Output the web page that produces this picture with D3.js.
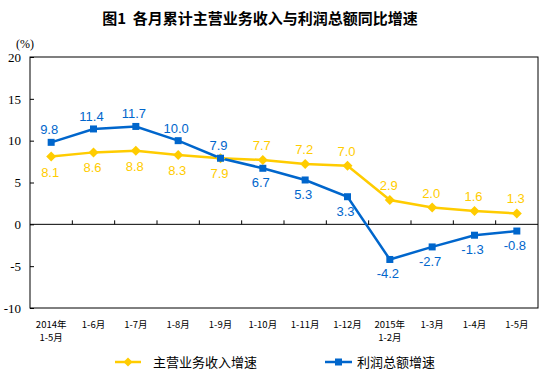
<!DOCTYPE html>
<html><head><meta charset="utf-8">
<script src="https://cdn.jsdelivr.net/npm/d3@7"></script>
<style>body{margin:0;background:#fff}svg{display:block}</style>
</head><body>
<svg id="c" width="554" height="379"></svg>
<script>
const categories = [["2014年","1-5月"],["1-6月"],["1-7月"],["1-8月"],["1-9月"],["1-10月"],["1-11月"],["1-12月"],["2015年","1-2月"],["1-3月"],["1-4月"],["1-5月"]];
const revenue = [8.1, 8.6, 8.8, 8.3, 7.9, 7.7, 7.2, 7.0, 2.9, 2.0, 1.6, 1.3];
const profit = [9.8, 11.4, 11.7, 10.0, 7.9, 6.7, 5.3, 3.3, -4.2, -2.7, -1.3, -0.8];
const yTicks = [-10, -5, 0, 5, 10, 15, 20];
const seriesNames = ["主营业务收入增速", "利润总额增速"];
const title = "图1\u00a0\u00a0各月累计主营业务收入与利润总额同比增速";

const svg = d3.select("#c");
const L = 30, R = 538, T = 57, B = 308;
const x = d3.scaleBand().domain(d3.range(categories.length)).range([L, R]).paddingInner(0).paddingOuter(0);
const y = d3.scaleLinear().domain([-10, 20]).range([B, T]);
const cx = i => x(i) + x.bandwidth() / 2;
const gold = "#FFCC00", blue = "#0066CC";
const cjk = "'Noto Sans CJK SC', sans-serif";
const fmt1 = d => d.toFixed(1);

svg.append("text").attr("x", 260).attr("y", 24).attr("text-anchor", "middle")
  .attr("font-family", cjk).attr("font-weight", "bold").attr("font-size", 15).attr("fill", "#000").text(title);

svg.append("text").attr("x", 16).attr("y", 48).attr("font-family", "'Liberation Serif', serif")
  .attr("font-size", 12).text("(%)");

// frame
svg.append("rect").attr("x", L).attr("y", T).attr("width", R - L).attr("height", B - T)
  .attr("fill", "none").attr("stroke", "#000").attr("stroke-width", 1);

// y axis
const yAxis = d3.axisLeft(y).tickValues(yTicks).tickSize(-4).tickPadding(9).tickFormat(d => String(d));
const gy = svg.append("g").attr("transform", `translate(${L},0)`).call(yAxis);
gy.select(".domain").remove();
gy.selectAll("text").attr("font-family", "'Liberation Serif', serif").attr("font-size", 13).attr("fill", "#000");
gy.selectAll("line").attr("stroke", "#000");

// zero line with ticks
const xAxis = d3.axisTop(x).tickSize(0).tickFormat("");
const gz = svg.append("g").attr("transform", `translate(0,${y(0)})`).call(xAxis);
gz.select(".domain").attr("stroke", "#000").attr("d", `M${L},0H${R}`);
gz.selectAll(".tick").remove();
gz.selectAll("line.bt").data(d3.range(1, categories.length)).enter().append("line")
  .attr("x1", i => x(i)).attr("x2", i => x(i)).attr("y1", 0).attr("y2", -4).attr("stroke", "#000");

// category labels
const gc = svg.append("g");
categories.forEach((c, i) => {
  c.forEach((t, k) => {
    gc.append("text").attr("x", cx(i)).attr("y", 328 + k * 13).attr("text-anchor", "middle")
      .attr("font-family", cjk).attr("font-size", 9.5).attr("fill", "#000").text(t);
  });
});

const line = d3.line().x((d, i) => cx(i)).y(d => y(d));
svg.append("path").datum(revenue).attr("d", line).attr("fill", "none").attr("stroke", gold).attr("stroke-width", 2.5);
svg.append("path").datum(profit).attr("d", line).attr("fill", "none").attr("stroke", blue).attr("stroke-width", 2.5);

const diamond = (px, py, s) => `M${px},${py - s}L${px + s},${py}L${px},${py + s}L${px - s},${py}Z`;
svg.append("g").selectAll("path").data(revenue).enter().append("path")
  .attr("d", (d, i) => diamond(cx(i), y(d), 5)).attr("fill", gold);
svg.append("g").selectAll("rect").data(profit).enter().append("rect")
  .attr("x", (d, i) => cx(i) - 3.5).attr("y", d => y(d) - 3.5).attr("width", 7).attr("height", 7).attr("fill", blue);

// value labels
const lab = "'Liberation Sans', Arial, sans-serif";
svg.append("g").selectAll("text").data(revenue).enter().append("text")
  .attr("x", (d, i) => cx(i) - 1).attr("y", (d, i) => i < 5 ? y(d) + 20 : y(d) - 10)
  .attr("text-anchor", "middle").attr("font-family", lab).attr("font-size", 13).attr("fill", gold)
  .text(fmt1);
svg.append("g").selectAll("text").data(profit).enter().append("text")
  .attr("x", (d, i) => cx(i) - 2).attr("y", (d, i) => i < 5 ? y(d) - 8 : y(d) + 19)
  .attr("text-anchor", "middle").attr("font-family", lab).attr("font-size", 13).attr("fill", blue)
  .text(fmt1);

// legend
const lg = svg.append("g");
lg.append("line").attr("x1", 115).attr("x2", 141).attr("y1", 362).attr("y2", 362).attr("stroke", gold).attr("stroke-width", 2.5);
lg.append("path").attr("d", diamond(128, 362, 4.5)).attr("fill", gold);
lg.append("text").attr("x", 153).attr("y", 367).attr("font-family", cjk).attr("font-size", 13).text(seriesNames[0]);
lg.append("line").attr("x1", 325).attr("x2", 352).attr("y1", 362).attr("y2", 362).attr("stroke", blue).attr("stroke-width", 2.5);
lg.append("rect").attr("x", 335).attr("y", 358.5).attr("width", 7).attr("height", 7).attr("fill", blue);
lg.append("text").attr("x", 357).attr("y", 367).attr("font-family", cjk).attr("font-size", 13).text(seriesNames[1]);
</script>
</body></html>
